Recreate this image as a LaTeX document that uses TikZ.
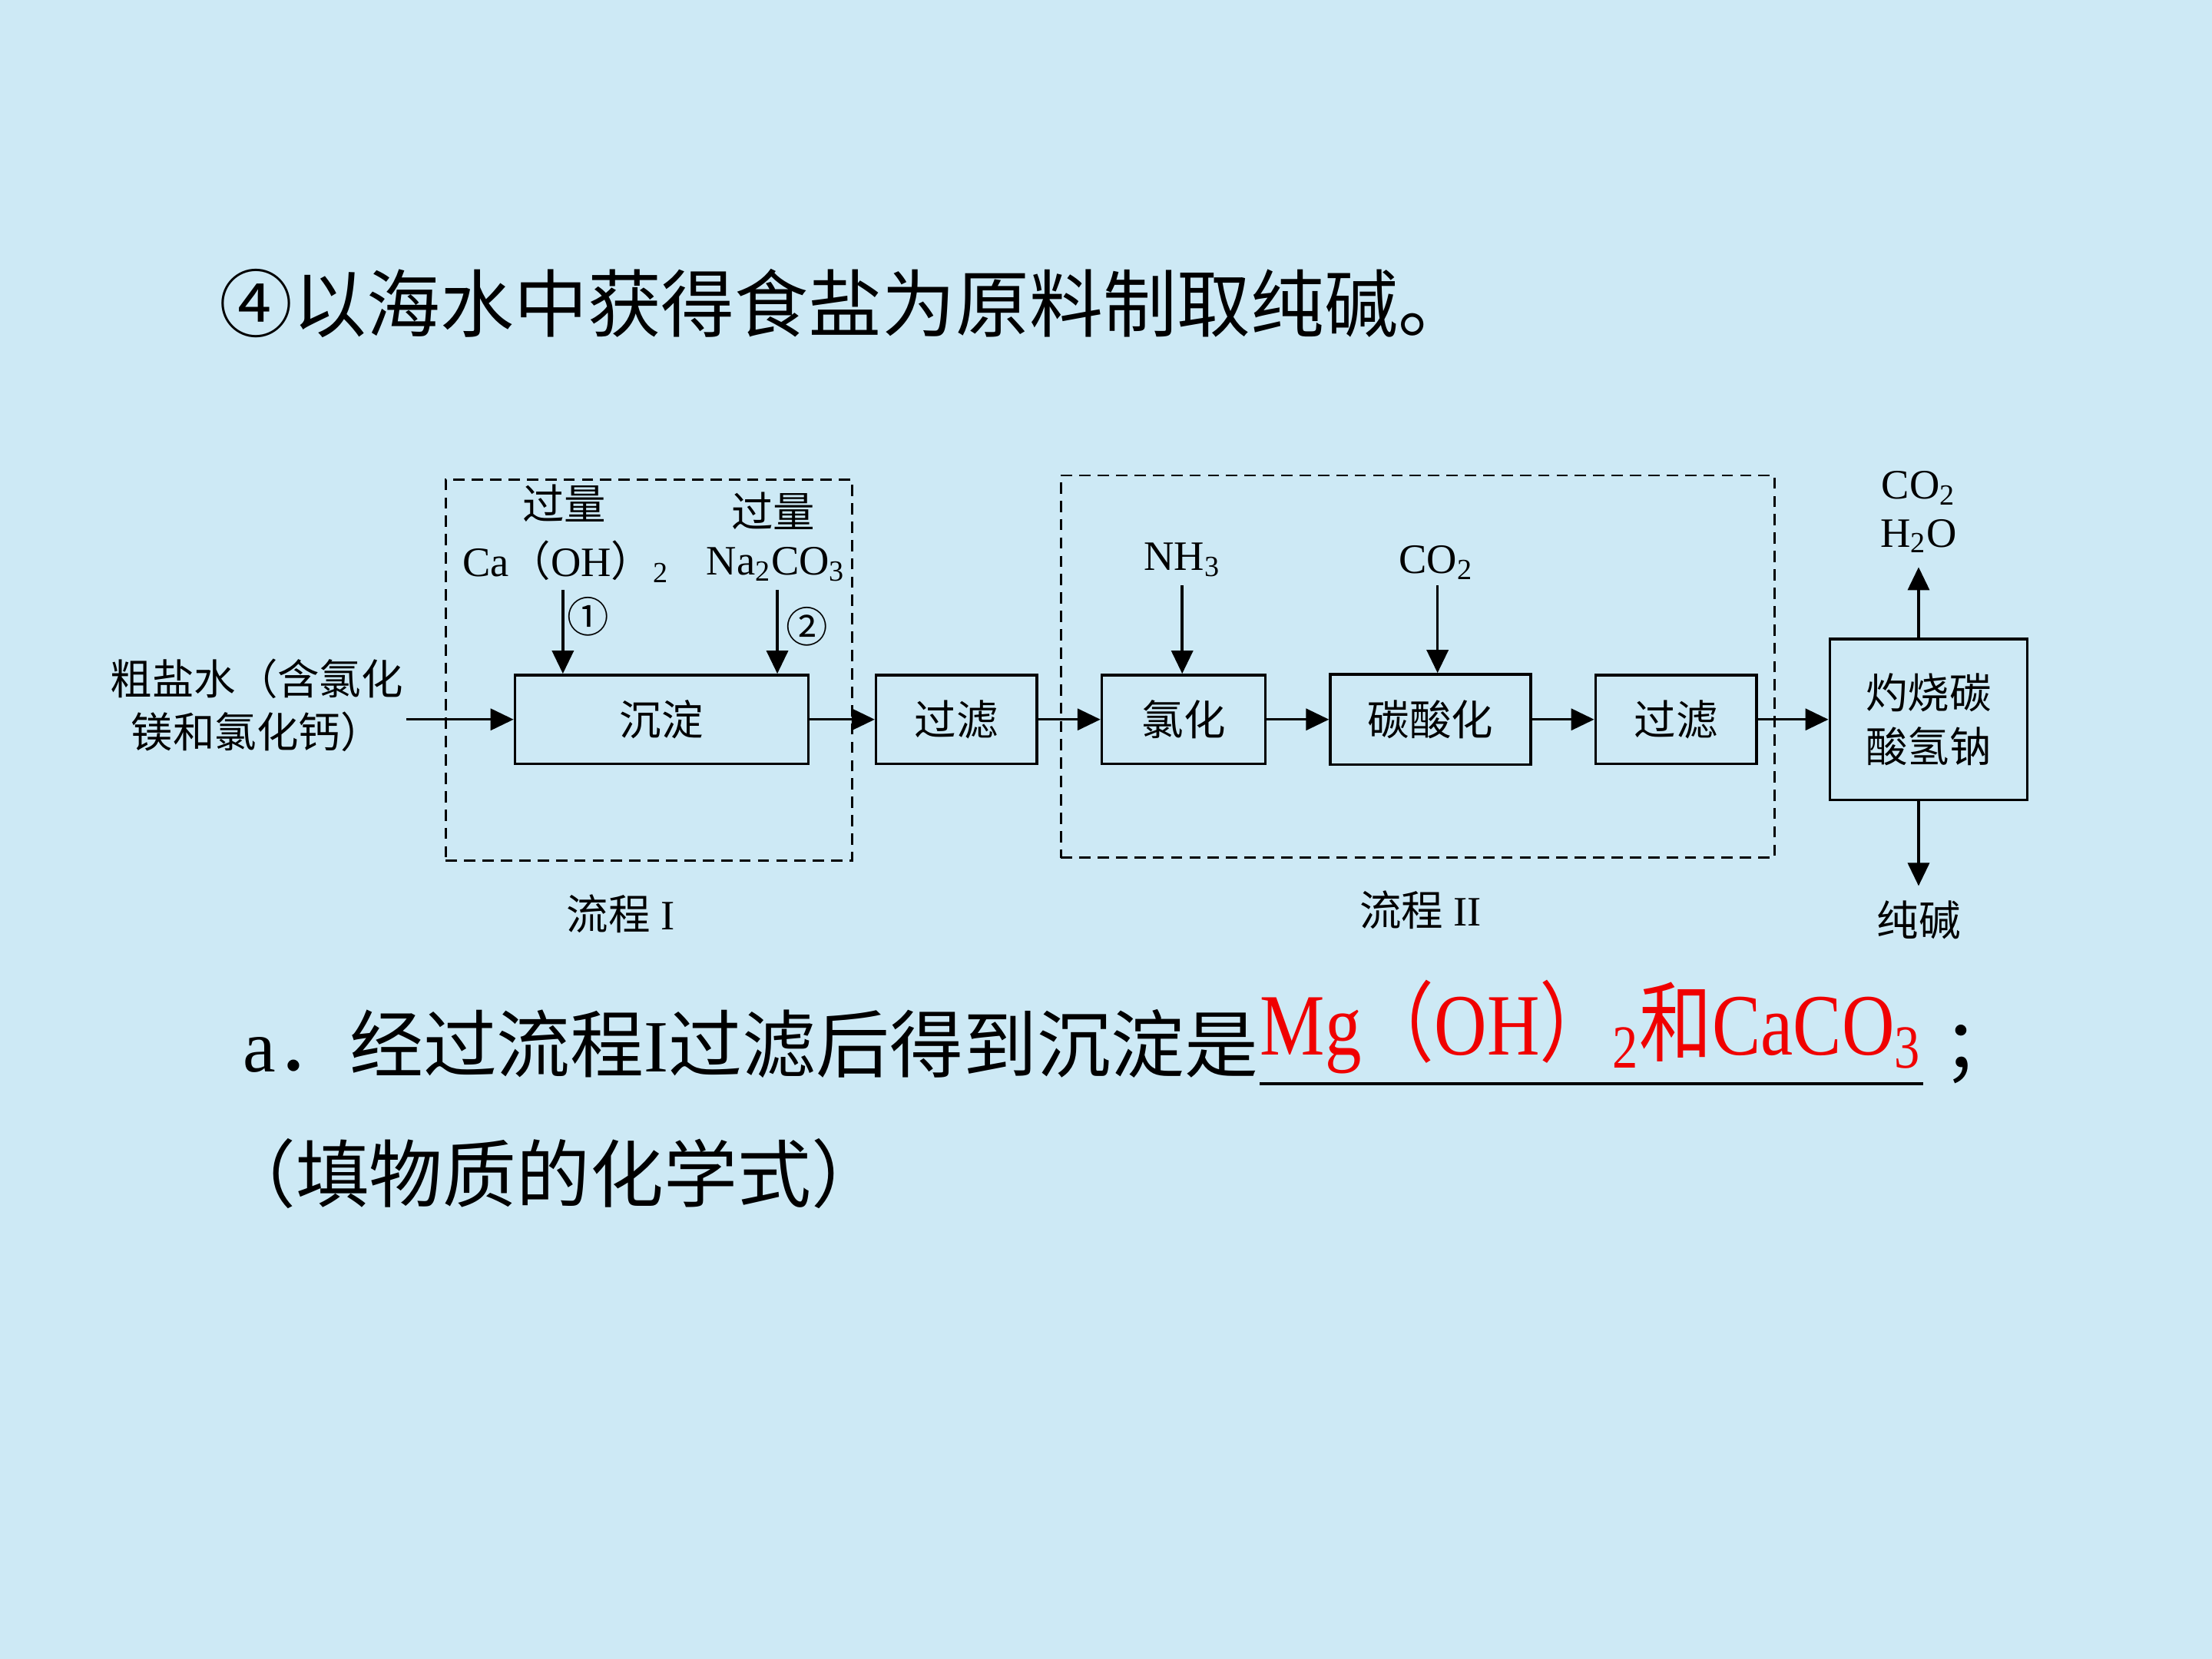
\documentclass[tikz,border=0pt]{standalone}
\usepackage{fontspec}
\setmainfont{Liberation Serif}
\newfontfamily\cjk{Noto Sans CJK SC}
\usetikzlibrary{arrows.meta}
\newlength\U
\setlength\U{0.018367cm}
\definecolor{bg}{RGB}{205,233,245}
\definecolor{ansred}{RGB}{240,0,0}
\tikzset{
  box/.style={draw, line width=1pt, inner sep=0pt, font=\cjk\fontsize{15.5pt}{18pt}\selectfont},
  dashbox/.style={draw, dash pattern=on 4.2pt off 2.6pt, line width=0.8pt, inner sep=0pt},
  arr/.style={-{Triangle[length=0.3cm,width=0.28cm]}, line width=1pt},
  lbl/.style={inner sep=0pt, font=\fontsize{15.5pt}{19.8pt}\selectfont, align=center},
  big/.style={inner sep=0pt, font=\fontsize{27.3pt}{32pt}\selectfont},
  bigcjk/.style={inner sep=0pt, font=\cjk\fontsize{27.3pt}{32pt}\selectfont}
}
\begin{document}
\begin{tikzpicture}[x=0.018367cm, y=-0.018367cm]
\useasboundingbox (0,0) rectangle (1568,1176);
\fill[bg] (0,0) rectangle (1568,1176);

% title
\node[bigcjk, anchor=west] (title) at (155,215) {④以海水中获得食盐为原料制取纯碱。};

% dashed groups
\node[dashbox, minimum width=288\U, minimum height=270\U] (flow1) at (460,475) {};
\node[dashbox, minimum width=506\U, minimum height=271\U] (flow2) at (1005,472.5) {};

% process boxes
\node[box, minimum width=208\U, minimum height=63\U] (chendian) at (469,510) {沉淀};
\node[box, minimum width=114\U, minimum height=63\U] (guolv1) at (678,510) {过滤};
\node[box, minimum width=116\U, minimum height=63\U] (lvhua) at (839,510) {氯化};
\node[box, minimum width=142\U, minimum height=64\U] (tsh) at (1014,510) {碳酸化};
\node[box, minimum width=114\U, minimum height=63\U] (guolv2) at (1188,510) {过滤};
\node[box, minimum width=140\U, minimum height=114\U, align=center, font=\cjk\fontsize{15.5pt}{20pt}\selectfont] (zs) at (1367,510) {灼烧碳\\酸氢钠};

% labels
\node[lbl] (raw) at (182,500) {\cjk 粗盐水（含氯化\\\cjk 镁和氯化钙）};
\node[lbl] (gl1) at (400,357) {\cjk 过量};
\node[lbl] (caoh) at (401,398) {Ca{\cjk （}OH{\cjk ）}\textsubscript{2}};
\node[lbl] (gl2) at (548,362) {\cjk 过量};
\node[lbl] (naco) at (550,400) {Na\textsubscript{2}CO\textsubscript{3}};
\node[lbl] (n1) at (417,437) {\cjk ①};
\node[lbl] (n2) at (572,444) {\cjk ②};
\node[lbl] (nh3) at (838,397) {NH\textsubscript{3}};
\node[lbl] (co2a) at (1018,399) {CO\textsubscript{2}};
\node[lbl] (co2b) at (1360,346) {CO\textsubscript{2}};
\node[lbl] (h2o) at (1360,380) {H\textsubscript{2}O};
\node[lbl] (soda) at (1360,652) {\cjk 纯碱};
\node[lbl] (lc1) at (440,648) {{\cjk 流程} I};
\node[lbl] (lc2) at (1007,645) {{\cjk 流程} II};

% coordinates for free ends
\coordinate (inp) at (288,510);
\coordinate (a1) at (399,418);
\coordinate (a2) at (551,418);
\coordinate (a3) at (838,415);
\coordinate (a4) at (1019,415);
\coordinate (up) at (1360,402);
\coordinate (dn) at (1360,628);

% connectors
\draw[arr] (inp) -- (chendian.west);
\draw[arr] (a1) -- (a1 |- chendian.north);
\draw[arr] (a2) -- (a2 |- chendian.north);
\draw[arr] (chendian.east) -- (guolv1.west);
\draw[arr] (guolv1.east) -- (lvhua.west);
\draw[arr] (a3) -- (a3 |- lvhua.north);
\draw[arr] (lvhua.east) -- (tsh.west);
\draw[arr] (a4) -- (a4 |- tsh.north);
\draw[arr] (tsh.east) -- (guolv2.west);
\draw[arr] (guolv2.east) -- (zs.west);
\draw[arr] (up |- zs.north) -- (up);
\draw[arr] (dn |- zs.south) -- (dn);

% question text
\node[big, anchor=base west] (qa) at (172,760)
  {a{\cjk ．经过流程}I{\cjk 过滤后得到沉淀是}};
\node[inner sep=0pt, anchor=base west, text=ansred] (ans) at (893,748)
  {\scalebox{1}[1.2]{\fontsize{27pt}{30pt}\selectfont Mg{\cjk （}OH{\cjk ）}\textsubscript{2}{\cjk 和}CaCO\textsubscript{3}}};
\coordinate (ul1) at (893,768);
\coordinate (ul2) at (1363,768);
\draw[line width=1.1pt] (ul1) -- (ul2);
\node[bigcjk, anchor=base west] (semi) at (1377,760) {；};
\node[bigcjk, anchor=base west] (qb) at (157,852) {（填物质的化学式）};
\end{tikzpicture}
\end{document}
